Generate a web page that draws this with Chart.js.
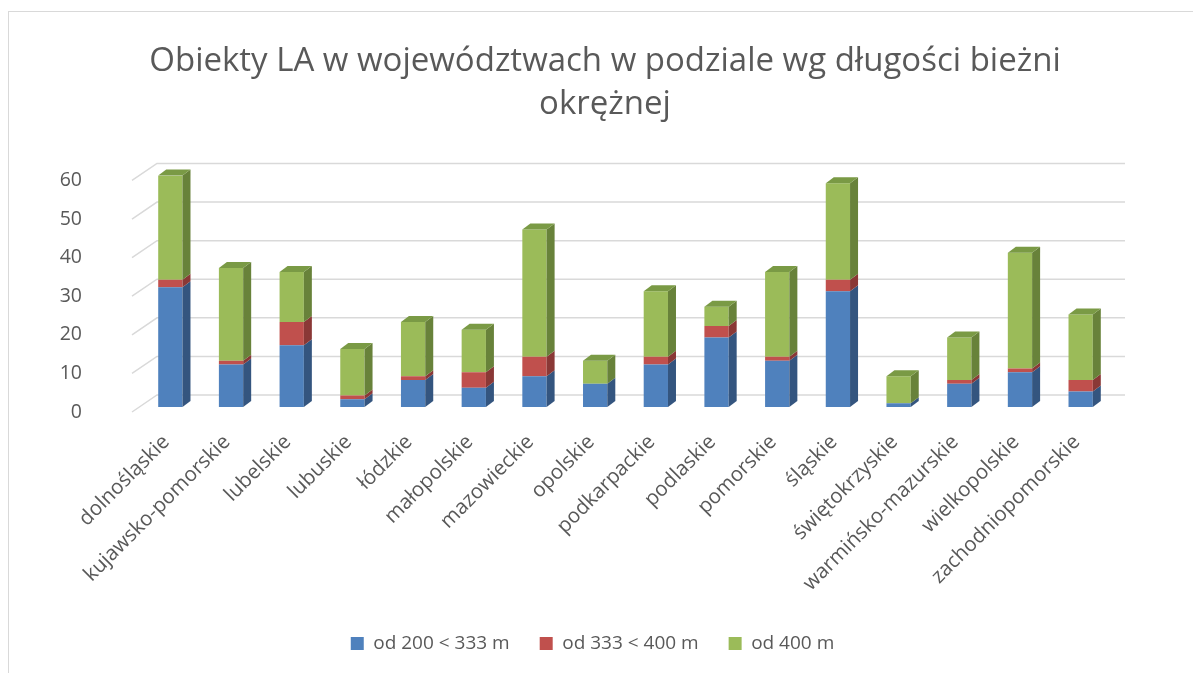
<!DOCTYPE html>
<html>
<head>
<meta charset="utf-8">
<script src="https://cdn.jsdelivr.net/npm/chart.js@4"></script>
<style>
  body { margin: 0; background: #fff; overflow: hidden; }
  #ramka { position: absolute; left: 8px; top: 11px; width: 1400px; height: 900px; border-left: 1.5px solid #d9d9d9; border-top: 1.5px solid #d9d9d9; }
  #obal { position: absolute; left: 0; top: 0; width: 1193px; height: 673px; }
</style>
</head>
<body>
<div id="ramka"></div>
<div id="obal"><canvas id="graf"></canvas></div>
<script>
let NADPIS = ['Obiekty LA w województwach w podziale wg długości bieżni', 'okrężnej'];

let wojewodztwa = ['dolnośląskie', 'kujawsko-pomorskie', 'lubelskie', 'lubuskie', 'łódzkie',
    'małopolskie', 'mazowieckie', 'opolskie', 'podkarpackie', 'podlaskie', 'pomorskie',
    'śląskie', 'świętokrzyskie', 'warmińsko-mazurskie', 'wielkopolskie', 'zachodniopomorskie'];

let nazwySerii = ['od 200 < 333 m', 'od 333 < 400 m', 'od 400 m'];

let od200 = [31, 11, 16, 2, 7, 5, 8, 6, 11, 18, 12, 30, 1, 6, 9, 4];
let od333 = [2, 1, 6, 1, 1, 4, 5, 0, 2, 3, 1, 3, 0, 1, 1, 3];
let od400 = [27, 24, 13, 12, 14, 11, 33, 6, 17, 5, 22, 25, 7, 11, 30, 17];

let osaY = [0, 10, 20, 30, 40, 50, 60];

// barvy: čelo, bok, vršek
let barvy = [
    ['#4f81bd', '#34557f', '#3f6797'],
    ['#c0504d', '#8a3836', '#9c403e'],
    ['#9bbb59', '#68823a', '#7a9a45']
];

let HLOUBKA_X = 8, HLOUBKA_Y = 6;   // hloubka sloupce
let ZADNI_X = 17, ZADNI_Y = 12;     // posun zadní stěny
let SPODEK = 10;

let TEXT = '#595959';
let PISMO = 'Open Sans';

// mřížka na zadní stěně (3D vzhled)
let mrizka3d = {
    id: 'mrizka3d',
    beforeDatasetsDraw(chart) {
        let ctx = chart.ctx;
        let y = chart.scales.y;
        let a = chart.chartArea;
        ctx.save();
        ctx.strokeStyle = '#d9d9d9';
        ctx.lineWidth = 1.5;
        osaY.forEach(v => {
            let py = y.getPixelForValue(v);
            ctx.beginPath();
            ctx.moveTo(a.left - 8, py + 5);
            ctx.lineTo(a.left + ZADNI_X, py - ZADNI_Y);
            ctx.lineTo(a.right + 14, py - ZADNI_Y);
            ctx.stroke();
        });
        ctx.restore();
    }
};

// boky a vršky sloupců
let sloupce3d = {
    id: 'sloupce3d',
    afterDatasetsDraw(chart) {
        let ctx = chart.ctx;
        let pocet = chart.data.datasets.length;
        ctx.save();
        for (let i = 0; i < wojewodztwa.length; i++) {
            let nejvyssi = -1;
            for (let d = 0; d < pocet; d++) {
                let el = chart.getDatasetMeta(d).data[i];
                if (Math.abs(el.base - el.y) < 0.5) continue;
                let p = el.x + el.width / 2;
                ctx.fillStyle = barvy[d][1];
                ctx.beginPath();
                ctx.moveTo(p, el.base);
                ctx.lineTo(p + HLOUBKA_X, el.base - HLOUBKA_Y);
                ctx.lineTo(p + HLOUBKA_X, el.y - HLOUBKA_Y);
                ctx.lineTo(p, el.y);
                ctx.closePath();
                ctx.fill();
                nejvyssi = d;
            }
            if (nejvyssi >= 0) {
                let el = chart.getDatasetMeta(nejvyssi).data[i];
                let l = el.x - el.width / 2, p = el.x + el.width / 2;
                ctx.fillStyle = barvy[nejvyssi][2];
                ctx.beginPath();
                ctx.moveTo(l, el.y);
                ctx.lineTo(p, el.y);
                ctx.lineTo(p + HLOUBKA_X, el.y - HLOUBKA_Y);
                ctx.lineTo(l + HLOUBKA_X, el.y - HLOUBKA_Y);
                ctx.closePath();
                ctx.fill();
            }
        }
        ctx.restore();
    }
};

// posun nadpisu a legendy do středu jako v Excelu
let posun = {
    id: 'posun',
    afterLayout(chart) {
        if (chart.titleBlock) chart.titleBlock.left = 99;
        if (chart.legend) {
            chart.legend.left += 37;
            chart.legend.right += 37;
        }
    }
};

let ctx = document.getElementById('graf').getContext('2d');
let myChart = new Chart(ctx, {
    type: 'bar',
    data: {
        labels: wojewodztwa,
        datasets: [od200, od333, od400].map((data, d) => ({
            label: nazwySerii[d],
            data: data,
            backgroundColor: barvy[d][0],
            borderWidth: 0,
            barPercentage: 0.4,
            categoryPercentage: 1
        }))
    },
    options: {
        responsive: true,
        maintainAspectRatio: false,
        animation: false,
        layout: { padding: { left: 0, right: 82, top: 0, bottom: SPODEK } },
        plugins: {
            title: {
                display: true,
                text: NADPIS,
                color: TEXT,
                font: { family: PISMO, size: 33, weight: 'normal', lineHeight: 1.31 },
                padding: { top: 40, bottom: 49 }
            },
            legend: {
                position: 'bottom',
                labels: {
                    color: TEXT,
                    font: { family: PISMO, size: 19 },
                    boxWidth: 13,
                    boxHeight: 13,
                    padding: 30
                }
            },
            tooltip: { enabled: false }
        },
        scales: {
            x: {
                stacked: true,
                grid: { display: false, drawTicks: false },
                border: { display: false },
                ticks: {
                    color: TEXT,
                    font: { family: PISMO, size: 20.5 },
                    minRotation: 45,
                    maxRotation: 45,
                    autoSkip: false,
                    padding: 23,
                    labelOffset: -4
                },
                afterFit(scale) {
                    let leg = scale.chart.legend ? scale.chart.legend.height : 40;
                    scale.height = 673 - 407 - SPODEK - leg;
                }
            },
            y: {
                stacked: true,
                min: 0,
                max: 60,
                grid: { display: false, drawTicks: false },
                border: { display: false },
                ticks: {
                    color: TEXT,
                    font: { family: PISMO, size: 19.5 },
                    stepSize: 10,
                    padding: 58,
                    labelOffset: 5
                },
                afterFit(scale) {
                    scale.width = 140;
                }
            }
        }
    },
    plugins: [mrizka3d, sloupce3d, posun]
});
</script>
</body>
</html>
